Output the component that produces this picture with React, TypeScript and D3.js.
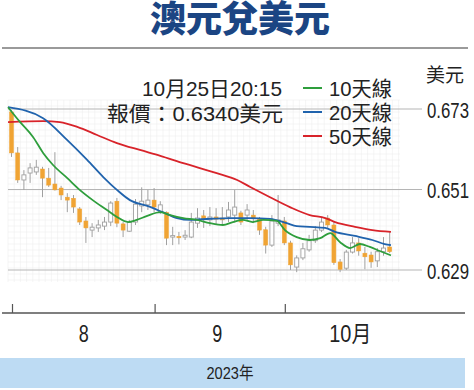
import React from 'react';
import * as d3 from 'd3';

// daily candles, Aug 1 - Oct 25 2023 (index = trading day)
const open = [
  0.6722, 0.6610, 0.6536, 0.6555, 0.6558, 0.6566, 0.6541, 0.6525, 0.6514, 0.6489,
  0.6486, 0.6457, 0.6424, 0.6399, 0.6405, 0.6410, 0.6421, 0.6478, 0.6416, 0.6396,
  0.6421, 0.6465, 0.6468, 0.6481, 0.6448, 0.6448, 0.6380, 0.6382, 0.6380, 0.6380,
  0.6418, 0.6438, 0.6427, 0.6435, 0.6432, 0.6435, 0.6440, 0.6446, 0.6440, 0.6440,
  0.6429, 0.6400, 0.6358, 0.6418, 0.6424, 0.6364, 0.6298, 0.6323, 0.6345, 0.6370,
  0.6399, 0.6432, 0.6413, 0.6312, 0.6295, 0.6339, 0.6364, 0.6336, 0.6331, 0.6315,
  0.6340, 0.6353,
];
const high = [
  0.6727, 0.6626, 0.6563, 0.6582, 0.6591, 0.6572, 0.6569, 0.6612, 0.6520, 0.6500,
  0.6495, 0.6462, 0.6435, 0.6418, 0.6427, 0.6435, 0.6478, 0.6487, 0.6421, 0.6427,
  0.6484, 0.6516, 0.6509, 0.6514, 0.6478, 0.6450, 0.6408, 0.6394, 0.6399, 0.6446,
  0.6459, 0.6454, 0.6462, 0.6459, 0.6462, 0.6476, 0.6509, 0.6452, 0.6470, 0.6454,
  0.6435, 0.6408, 0.6440, 0.6495, 0.6435, 0.6370, 0.6330, 0.6364, 0.6386, 0.6410,
  0.6435, 0.6440, 0.6421, 0.6320, 0.6345, 0.6380, 0.6377, 0.6353, 0.6340, 0.6350,
  0.6380, 0.6394,
];
const low = [
  0.6599, 0.6528, 0.6509, 0.6528, 0.6550, 0.6489, 0.6517, 0.6507, 0.6481, 0.6448,
  0.6446, 0.6413, 0.6364, 0.6380, 0.6394, 0.6399, 0.6410, 0.6407, 0.6380, 0.6394,
  0.6413, 0.6448, 0.6454, 0.6448, 0.6443, 0.6358, 0.6358, 0.6360, 0.6372, 0.6377,
  0.6405, 0.6405, 0.6410, 0.6413, 0.6413, 0.6421, 0.6420, 0.6413, 0.6424, 0.6418,
  0.6386, 0.6335, 0.6353, 0.6410, 0.6358, 0.6290, 0.6284, 0.6317, 0.6340, 0.6364,
  0.6394, 0.6405, 0.6304, 0.6284, 0.6290, 0.6335, 0.6329, 0.6292, 0.6296, 0.6298,
  0.6329, 0.6336,
];
const close = [
  0.6610, 0.6536, 0.6550, 0.6569, 0.6571, 0.6541, 0.6522, 0.6509, 0.6495, 0.6481,
  0.6462, 0.6421, 0.6405, 0.6407, 0.6413, 0.6421, 0.6473, 0.6418, 0.6399, 0.6421,
  0.6470, 0.6478, 0.6481, 0.6462, 0.6468, 0.6377, 0.6384, 0.6378, 0.6385, 0.6421,
  0.6432, 0.6430, 0.6435, 0.6429, 0.6427, 0.6454, 0.6462, 0.6421, 0.6454, 0.6432,
  0.6399, 0.6358, 0.6424, 0.6427, 0.6364, 0.6304, 0.6323, 0.6348, 0.6370, 0.6399,
  0.6421, 0.6413, 0.6310, 0.6292, 0.6339, 0.6364, 0.6342, 0.6326, 0.6312, 0.6340,
  0.6350, 0.6340,
];

// moving averages (day index, value)
const ma10Day = [-0.56, 1.4, 3.5, 5.1, 6.7, 9, 11, 13.1, 15.4, 17, 18.8, 20.2, 21.9, 24, 25.6, 27.7, 29.9, 32, 34.1, 35.7, 37.3, 38.9, 40.6, 42.8, 44.1, 46, 48.1, 49.8, 51.4, 53, 54.6, 56.2, 57.8, 59.4, 61.2];
const ma10 = [0.6735, 0.6694, 0.6653, 0.6610, 0.6577, 0.6541, 0.6509, 0.6481, 0.6454, 0.6435, 0.6421, 0.6427, 0.6438, 0.6448, 0.6440, 0.6432, 0.6427, 0.6418, 0.6413, 0.6421, 0.6427, 0.6421, 0.6427, 0.6424, 0.6399, 0.6380, 0.6372, 0.6377, 0.6391, 0.6366, 0.6350, 0.6361, 0.6353, 0.6342, 0.6330];
const ma20Day = [-0.56, 5.1, 9, 12.2, 14.8, 17, 19.1, 21.9, 24.4, 26.7, 28.8, 32, 35.2, 38.5, 41.7, 44.4, 46, 48.1, 50.6, 52.2, 55.4, 58.2, 60.2, 61.2];
const ma20 = [0.6735, 0.6705, 0.6645, 0.6591, 0.6544, 0.6509, 0.6481, 0.6465, 0.6448, 0.6432, 0.6427, 0.6430, 0.6432, 0.6432, 0.6430, 0.6418, 0.6410, 0.6408, 0.6405, 0.6394, 0.6383, 0.6372, 0.6361, 0.6358];
const ma50Day = [-0.56, 5.1, 7.8, 10.6, 13.8, 17, 20.7, 24, 27.7, 33.1, 36.4, 38.5, 41.7, 44.9, 48.1, 50.6, 52.2, 55.4, 58.2, 61.2];
const ma50 = [0.6694, 0.6697, 0.6694, 0.6681, 0.6659, 0.6637, 0.6618, 0.6602, 0.6582, 0.6555, 0.6536, 0.6517, 0.6489, 0.6462, 0.6440, 0.6432, 0.6421, 0.6408, 0.6399, 0.6394];

const yTicks = [0.673, 0.651, 0.629];
const monthStart = [0, 23, 44];
const monthLabels = ['8', '9', '10月'];
const legendNames = ['10天線', '20天線', '50天線'];
const legendColors = ['#2e9e3c', '#2063ad', '#d8232a'];

const FONT = '"Liberation Sans", Arial, "Noto Sans CJK TC", sans-serif';
const CJK = '"Noto Sans CJK TC", sans-serif';

// text squeezed to the width seen in the print (the original uses a condensed face)
const Squeezed = ({ x, y, w, size, anchor = 'start', children }: any) => (
  <text x={x} y={y} textAnchor={anchor} dominantBaseline="central" fontFamily={FONT}
    fontSize={size} fill="#222" textLength={w} lengthAdjust="spacingAndGlyphs">{children}</text>
);

export default function App() {
  const W = 474, H = 390;
  const x = d3.scaleLinear().domain([0, 61]).range([11.5, 389.7]);
  const y = d3.scaleLinear().domain([0.629, 0.673]).range([270, 109]);

  const line = d3.line<[number, number]>()
    .x(d => x(d[0]))
    .y(d => y(d[1]))
    .curve(d3.curveMonotoneX);

  const series = [
    { days: ma50Day, vals: ma50, color: legendColors[2] },
    { days: ma20Day, vals: ma20, color: legendColors[1] },
    { days: ma10Day, vals: ma10, color: legendColors[0] },
  ];

  // faint background grid
  const gridX = d3.range(8, 402, 6.2);
  const gridY = d3.range(100, 282, 6);

  const bw = 4;
  const monthLabelX = [
    (x(monthStart[0]) + x(monthStart[1])) / 2 + 1,
    (x(monthStart[1]) + x(monthStart[2])) / 2 - 2,
    x(monthStart[2]) + 66,
  ];

  return (
    <svg width={W} height={H} style={{ position: 'absolute', left: 0, top: 0, background: '#fff' }}>
      <text x={240} y={32} textAnchor="middle"
        fontFamily={CJK} fontWeight={900} fontSize={36} fill="#1b4583">澳元兌美元</text>
      <line x1={2} x2={468} y1={48} y2={48} stroke="#9a9a9a" strokeWidth={2} />

      <g stroke="#efefef" strokeWidth={0.6}>
        {gridX.map((gx, i) => <line key={'gx' + i} x1={gx} x2={gx} y1={100} y2={282} />)}
        {gridY.map((gy, i) => <line key={'gy' + i} x1={8} x2={400} y1={gy} y2={gy} />)}
      </g>

      {yTicks.map(t => (
        <g key={t}>
          <line x1={8} x2={422} y1={y(t)} y2={y(t)} stroke="#b5b5b5" strokeWidth={1.2} />
          <Squeezed x={427} y={y(t) + 1} w={42} size={22}>{t.toFixed(3)}</Squeezed>
        </g>
      ))}
      <text x={445} y={73} textAnchor="middle" dominantBaseline="central" fontFamily={CJK} fontSize={19} fill="#222">美元</text>

      <Squeezed x={282} y={88} w={140} size={21} anchor="end">10月25日20:15</Squeezed>
      <Squeezed x={283} y={113} w={176} size={21} anchor="end">報價：0.6340美元</Squeezed>
      {legendNames.map((n, i) => (
        <g key={n}>
          <line x1={303} x2={322} y1={88 + i * 24} y2={88 + i * 24} stroke={legendColors[i]} strokeWidth={2} />
          <Squeezed x={329} y={88 + i * 24} w={63} size={21}>{n}</Squeezed>
        </g>
      ))}

      {open.map((o, i) => {
        const c = close[i];
        const up = c >= o;
        const top = y(Math.max(o, c));
        const bot = y(Math.min(o, c));
        return (
          <g key={'c' + i}>
            <line x1={x(i)} x2={x(i)} y1={y(high[i])} y2={y(low[i])} stroke="#a0a0a0" strokeWidth={1} />
            <rect x={x(i) - bw / 2} y={top} width={bw} height={Math.max(bot - top, 1.2)}
              fill={up ? '#fff' : '#f0a434'} stroke={up ? '#a0a0a0' : '#f0a434'} strokeWidth={up ? 0.9 : 0.5} />
          </g>
        );
      })}

      {series.map((s, i) => (
        <path key={'ma' + i} d={line(s.days.map((d, j) => [d, s.vals[j]] as [number, number])) || ''}
          fill="none" stroke={s.color} strokeWidth={1.8} />
      ))}

      <line x1={2} x2={465} y1={313} y2={313} stroke="#555" strokeWidth={1.5} />
      {monthStart.map((m, i) => (
        <g key={'m' + i}>
          <line x1={x(m) + 1} x2={x(m) + 1} y1={304} y2={313} stroke="#555" strokeWidth={1.2} />
          <Squeezed x={monthLabelX[i]} y={334} w={i < 2 ? 10 : 42} size={23} anchor="middle">{monthLabels[i]}</Squeezed>
        </g>
      ))}

      <rect x={0} y={358} width={465} height={30} fill="#bddbf3" />
      <Squeezed x={230} y={373} w={47} size={17} anchor="middle">2023年</Squeezed>
    </svg>
  );
}
